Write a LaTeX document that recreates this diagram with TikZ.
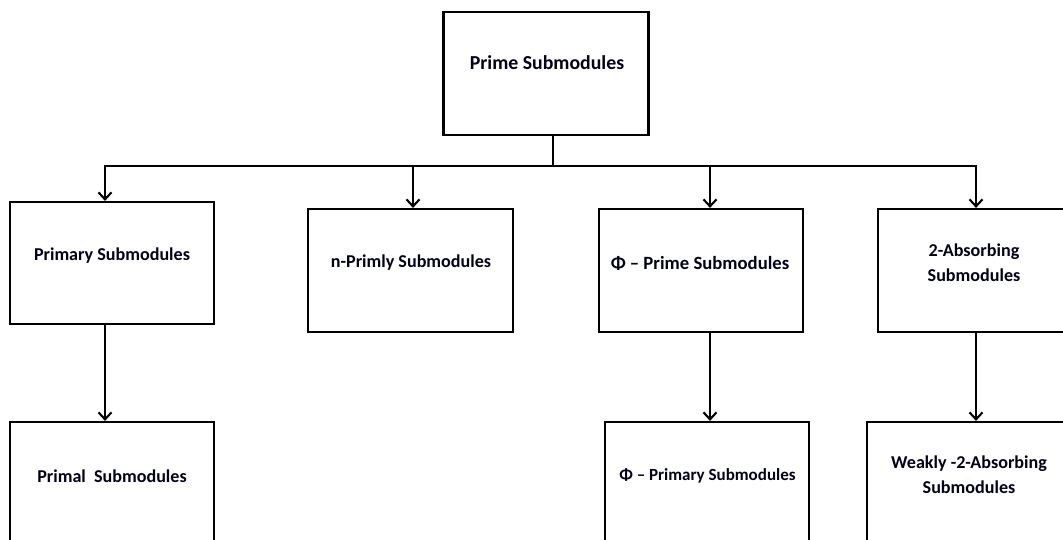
\documentclass[tikz,border=0pt]{standalone}
\usepackage{fontspec}
\setmainfont{Carlito}
\usetikzlibrary{arrows.meta}
\begin{document}
\begin{tikzpicture}[x=1pt,y=-1pt,
  box/.style={draw, rectangle, line width=2.2pt, inner sep=0pt},
  lbl/.style={font=\bfseries\fontsize{18.1}{25}\selectfont, align=center, inner sep=0pt, text=black!90!blue},
  big/.style={font=\bfseries\fontsize{19.8}{25}\selectfont},
  small/.style={font=\bfseries\fontsize{17}{25}\selectfont},
  arr/.style={-{Straight Barb[length=7pt,width=13pt]}, line width=2.1pt},
  ln/.style={line width=2.1pt}]
\useasboundingbox (0,0) rectangle (1063,540);
\clip (0,0) rectangle (1063,540);
% boxes
\node[box, minimum width=205pt, minimum height=123pt] (prime) at (546,73.5) {};
\node[box, minimum width=204pt, minimum height=122pt] (primary) at (112,263) {};
\node[box, minimum width=205pt, minimum height=123pt] (nprimly) at (410.5,270.5) {};
\node[box, minimum width=204pt, minimum height=123pt] (phiprime) at (701,270.5) {};
\node[box, minimum width=192pt, minimum height=123pt] (twoabs) at (974,270.5) {};
\node[box, minimum width=204pt, minimum height=122pt] (primal) at (112,483) {};
\node[box, minimum width=204pt, minimum height=122pt] (phiprimary) at (707,483) {};
\node[box, minimum width=204pt, minimum height=122pt] (weakly) at (969,483) {};
% labels
\node[lbl, big] (primeT) at (547,63) {Prime Submodules};
\node[lbl] (primaryT) at (112,256) {Primary Submodules};
\node[lbl] (nprimlyT) at (411,263) {n-Primly Submodules};
\node[lbl, font=\bfseries\fontsize{18.7}{25}\selectfont] (phiprimeT) at (700,263) {Φ – Prime Submodules};
\node[lbl] (twoabsT) at (974,262.5) {2-Absorbing\\Submodules};
\node[lbl] (primalT) at (112,476) {Primal\ \ Submodules};
\node[lbl, small] (phiprimaryT) at (707.5,476) {Φ – Primary Submodules};
\node[lbl] (weaklyT) at (969,475) {Weakly -2-Absorbing\\Submodules};
% connectors
\coordinate (j) at (553,166);
\draw[ln] (j |- prime.south) -- (j);
\draw[arr] (j) -| (105,0 |- primary.north);
\draw[arr] (j) -| (413,0 |- nprimly.north);
\draw[arr] (j) -| (710,0 |- phiprime.north);
\draw[arr] (j) -| (976,0 |- twoabs.north);
\draw[arr] (105,0 |- primary.south) -- (105,0 |- primal.north);
\draw[arr] (710,0 |- phiprime.south) -- (710,0 |- phiprimary.north);
\draw[arr] (976,0 |- twoabs.south) -- (976,0 |- weakly.north);
\end{tikzpicture}
\end{document}
